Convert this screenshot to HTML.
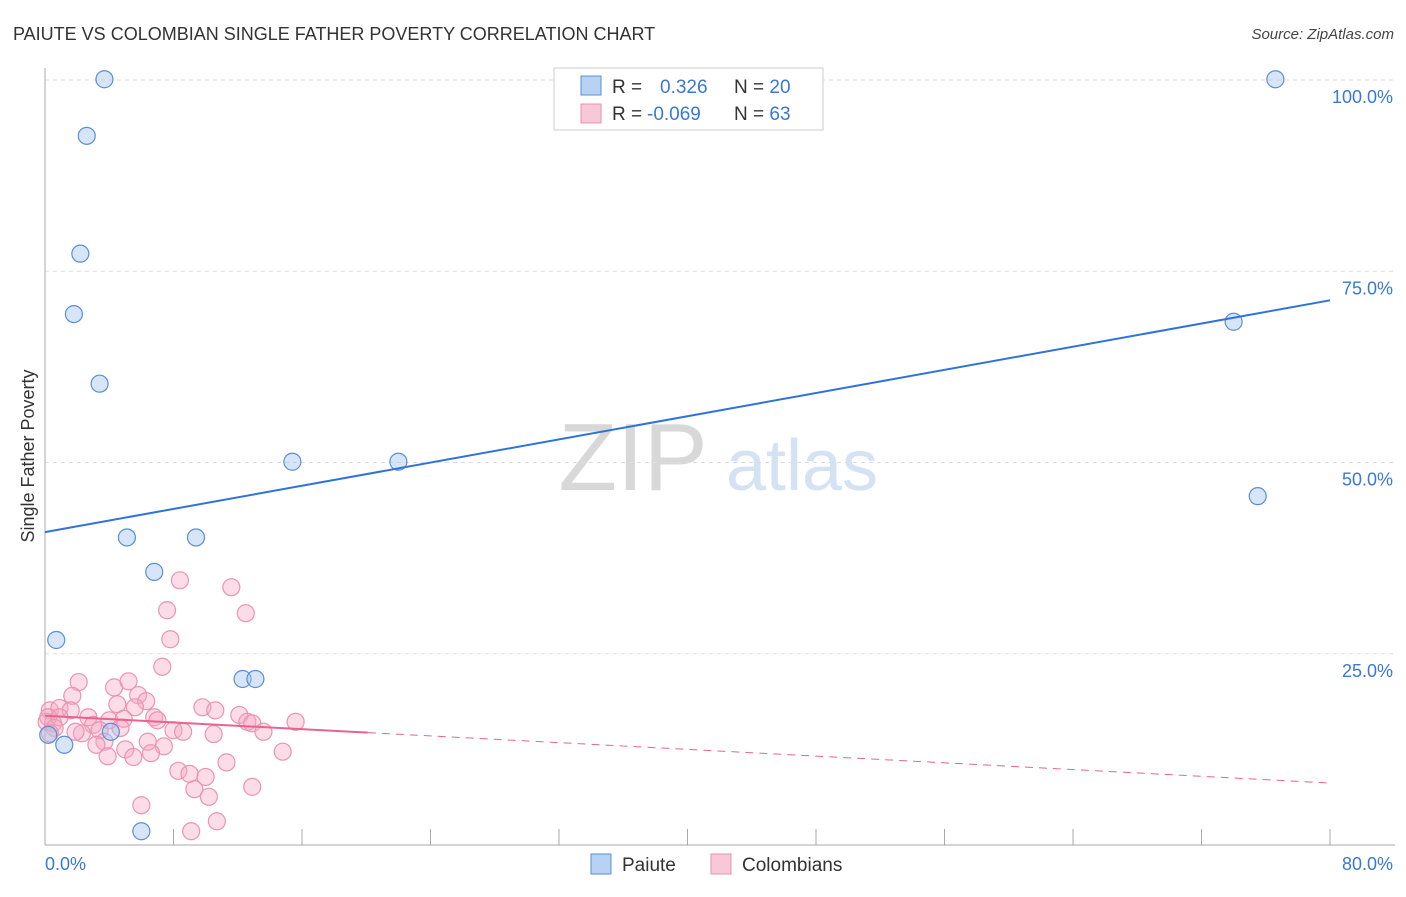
<!DOCTYPE html>
<html><head><meta charset="utf-8"><style>
body{margin:0;background:#fff;font-family:"Liberation Sans",sans-serif}
svg text{font-family:"Liberation Sans",sans-serif}
</style></head><body>
<svg id="c" width="1406" height="892" xmlns="http://www.w3.org/2000/svg">
<text x="13" y="40" font-size="18" fill="#333">PAIUTE VS COLOMBIAN SINGLE FATHER POVERTY CORRELATION CHART</text>
<text x="1394" y="39" font-size="15" fill="#444" font-style="italic" text-anchor="end">Source: ZipAtlas.com</text>
<g><text x="633" y="490" font-size="96" font-family="Liberation Serif" fill="#d8d8d8" text-anchor="middle">ZIP</text><text x="802" y="490" font-size="72" fill="#d4e2f4" text-anchor="middle">atlas</text></g>
<g id="grid"></g>
<g id="axes"></g>
<g id="marks"></g>
<text transform="translate(34,456) rotate(-90)" font-size="18" fill="#333" text-anchor="middle">Single Father Poverty</text>
<g>
<rect x="554" y="68" width="269" height="62" fill="#fff" stroke="#ccc"/>
<rect x="581" y="76" width="20" height="19" fill="#b8d2f4" stroke="#5a8fd8"/>
<rect x="581" y="104" width="20" height="19" fill="#f8c8d8" stroke="#e890ae"/>
<text x="612" y="93" font-size="19" fill="#333">R = <tspan fill="#3a78d4" x="660">0.326</tspan><tspan x="734" fill="#333">N = </tspan><tspan fill="#3a78d4">20</tspan></text>
<text x="612" y="120" font-size="19" fill="#333">R = <tspan fill="#3a78d4" x="647">-0.069</tspan><tspan x="734" fill="#333">N = </tspan><tspan fill="#3a78d4"> 63</tspan></text>
</g>
<g>
<rect x="591" y="854" width="20" height="20" fill="#b8d2f4" stroke="#5a8fd8"/>
<text x="622" y="871" font-size="19" fill="#333">Paiute</text>
<rect x="711" y="854" width="20" height="20" fill="#f8c8d8" stroke="#e890ae"/>
<text x="742" y="871" font-size="19" fill="#333">Colombians</text>
</g>
</svg>
<script>
const xTickLabels=["0.0%","80.0%"];
const yTicks=[25,50,75,100];
const yTickLabels=["25.0%","50.0%","75.0%","100.0%"];
const paiuteX=[3.7,2.6,2.2,1.8,3.4,15.4,22.0,5.1,9.4,6.8,0.7,12.3,13.1,4.1,1.2,0.2,6.0,76.6,74.0,75.5];
const paiuteY=[100.1,92.7,77.3,69.4,60.3,50.1,50.1,40.2,40.2,35.7,26.8,21.7,21.7,14.8,13.1,14.4,1.8,100.1,68.4,45.6];
const colX=[8.4,11.6,7.6,12.5,7.8,7.3,2.1,4.3,5.2,1.7,4.5,5.8,6.3,5.6,9.8,10.6,0.3,0.9,1.6,2.7,4.0,4.9,6.8,7.0,12.1,12.6,12.9,15.6,0.1,0.5,3.0,3.4,4.7,8.0,8.6,10.5,13.6,2.3,1.9,3.7,3.2,6.4,7.4,5.0,5.5,6.6,3.9,14.8,11.3,8.3,9.0,10.0,9.3,10.2,12.9,6.0,10.7,9.1,0.2,0.9,0.6,0.3];
const colY=[34.6,33.7,30.7,30.3,26.9,23.3,21.3,20.6,21.4,19.5,18.4,19.6,18.8,18.0,18.0,17.6,17.6,17.9,17.6,16.7,16.3,16.5,16.7,16.3,17.0,16.1,15.9,16.1,16.1,15.9,15.7,15.0,15.3,15.0,14.8,14.5,14.8,14.6,14.8,13.5,13.1,13.5,12.9,12.5,11.5,12.0,11.6,12.2,10.8,9.7,9.3,8.9,7.3,6.3,7.6,5.2,3.1,1.8,16.7,16.7,15.3,14.6];
const paiuteTrend=[40.9,71.2]; // y at x=0 and x=80
const colTrend=[16.9,8.1];
const colSolidEnd=20.1;
const NS="http://www.w3.org/2000/svg";
const X=v=>45+v/80*1285, Y=v=>845-v*7.65;
function mk(tag,attrs,parent){const e=document.createElementNS(NS,tag);for(const k in attrs)e.setAttribute(k,attrs[k]);document.getElementById(parent).appendChild(e);return e;}
yTicks.forEach((t,i)=>{
 const g=mk('line',{x1:45,x2:1395,y1:Y(t),y2:Y(t),stroke:'#ddd','stroke-dasharray':'4,4'},'grid');
 
 
 const l=mk('text',{x:1393,y:Y(t)+23,'font-size':18,fill:'#3a78d4','text-anchor':'end'},'axes');
 l.textContent=yTickLabels[i];
 
 
});
let a=mk('line',{x1:45,x2:45,y1:68,y2:845,stroke:'#aaa'},'axes');


a=mk('line',{x1:45,x2:1395,y1:845,y2:845,stroke:'#aaa'},'axes');


for(let i=0;i<=10;i++){const t=mk('line',{x1:X(i*8),x2:X(i*8),y1:829,y2:845,stroke:'#aaa'},'axes');
 
 }
let xl=mk('text',{x:45,y:870,'font-size':18,fill:'#3a78d4'},'axes');xl.textContent=xTickLabels[0];


xl=mk('text',{x:1393,y:870,'font-size':18,fill:'#3a78d4','text-anchor':'end'},'axes');xl.textContent=xTickLabels[1];


colX.forEach((v,i)=>{const c=mk('circle',{cx:X(v),cy:Y(colY[i]),r:8.5,fill:'rgba(244,168,195,0.4)',stroke:'#eb94b2','stroke-width':1.2},'marks');
 
 });
paiuteX.forEach((v,i)=>{const c=mk('circle',{cx:X(v),cy:Y(paiuteY[i]),r:8.5,fill:'rgba(164,198,240,0.45)',stroke:'#5a8fd8','stroke-width':1.2},'marks');
 
 });
const cy=x=>colTrend[0]+(colTrend[1]-colTrend[0])*x/80;
let ln=mk('line',{x1:X(0),y1:Y(paiuteTrend[0]),x2:X(80),y2:Y(paiuteTrend[1]),stroke:'#2f73d6','stroke-width':2},'marks');


ln=mk('line',{x1:X(0),y1:Y(cy(0)),x2:X(colSolidEnd),y2:Y(cy(colSolidEnd)),stroke:'#e8648e','stroke-width':2},'marks');


ln=mk('line',{x1:X(colSolidEnd),y1:Y(cy(colSolidEnd)),x2:X(80),y2:Y(cy(80)),stroke:'#e8648e','stroke-width':1,'stroke-dasharray':'8,6'},'marks');


</script>
</body></html>
